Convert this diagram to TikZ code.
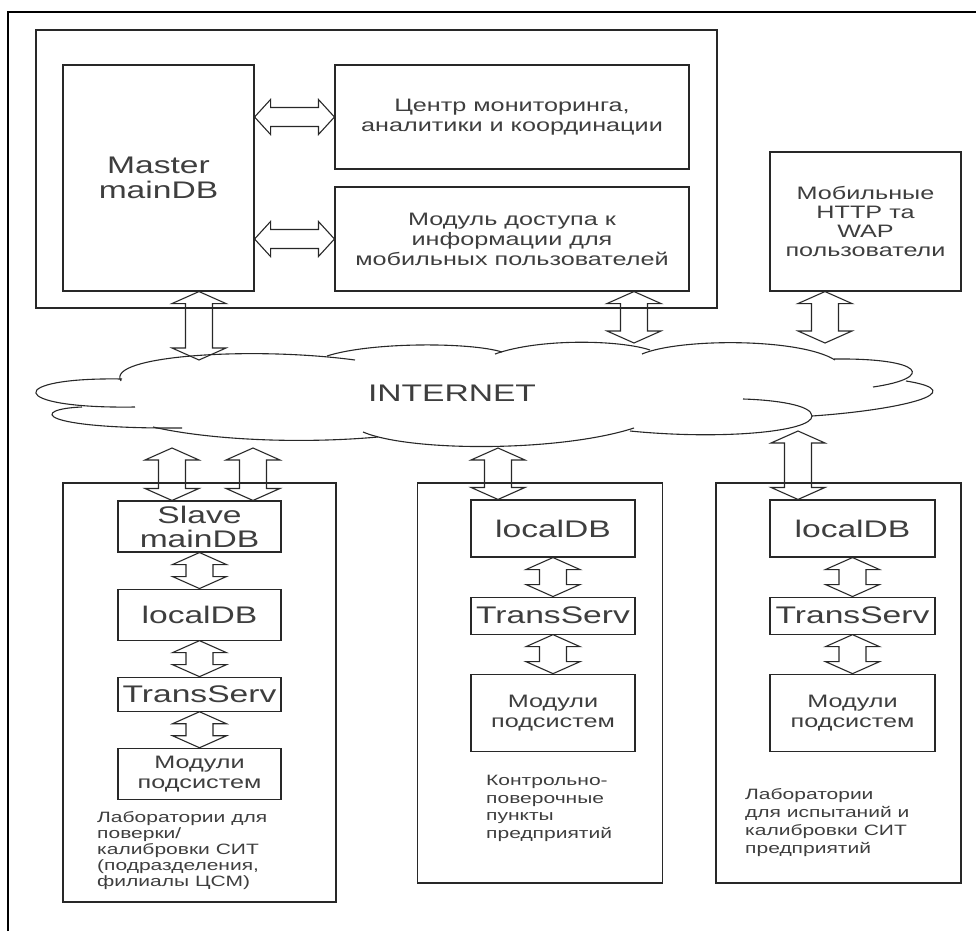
\documentclass[tikz,border=0pt]{standalone}
\usepackage{fontspec}
\setmainfont{Liberation Sans}[FakeStretch=1.4]
\usetikzlibrary{calc,positioning}
\definecolor{inkline}{RGB}{40,40,40}
\definecolor{inktext}{RGB}{62,62,62}

% wide two-headed arrows, drawn as outlines
\newcommand{\vbiarrow}[2]{%
  \draw[biarr] let \p1=#1, \p2=#2 in
    (\x1,\y1) -- (\x1+27pt,\y1-12pt) -- (\x1+13.5pt,\y1-12pt) -- (\x1+13.5pt,\y2+12pt)
    -- (\x1+27pt,\y2+12pt) -- (\x1,\y2) -- (\x1-27pt,\y2+12pt) -- (\x1-13.5pt,\y2+12pt)
    -- (\x1-13.5pt,\y1-12pt) -- (\x1-27pt,\y1-12pt) -- cycle;}
\newcommand{\hbiarrow}[2]{%
  \draw[biarr] let \p1=#1, \p2=#2 in
    (\x1,\y1) -- (\x1+16pt,\y1+17.5pt) -- (\x1+16pt,\y1+9.5pt) -- (\x2-16pt,\y1+9.5pt)
    -- (\x2-16pt,\y1+17.5pt) -- (\x2,\y1) -- (\x2-16pt,\y1-17.5pt) -- (\x2-16pt,\y1-9.5pt)
    -- (\x1+16pt,\y1-9.5pt) -- (\x1+16pt,\y1-17.5pt) -- cycle;}

\begin{document}
\begin{tikzpicture}[x=1pt, y=-1pt,
  box/.style={draw=inkline, line width=1.1pt, inner sep=0pt, align=center, text=inktext},
  bigtxt/.style={font=\fontsize{24}{25}\selectfont},
  midtxt/.style={font=\fontsize{18}{20}\selectfont},
  note/.style={anchor=west, inner sep=0pt, align=left, text=inktext, font=\fontsize{15}{16}\selectfont},
  biarr/.style={draw=inkline, line width=1.1pt, line join=miter},
  puff/.style={draw=inkline, line width=1.1pt}]
\useasboundingbox (0,0) rectangle (976,931);
\draw[line width=1.1pt] (8,931) -- (8,12) -- (976,12);

% server side
\node[box, minimum width=681pt, minimum height=278pt] (server) at (376.5,169) {};
\node[box, bigtxt, minimum width=191pt, minimum height=226pt] (master) at (158.5,178) {Master\\mainDB};
\node[box, midtxt, minimum width=354pt, minimum height=104pt] (centre) at (512,117) {Центр мониторинга,\\аналитики и координации};
\node[box, midtxt, minimum width=354pt, minimum height=104pt] (access) at (512,239) {Модуль доступа к\\информации для\\мобильных пользователей};
\node[box, midtxt, font=\fontsize{18}{19}\selectfont, minimum width=191pt, minimum height=139pt] (mobile) at (865.5,221.5) {Мобильные\\HTTP та\\WAP\\пользователи};

% internet cloud
\node[text=inktext, bigtxt] (inet) at (452,393) {INTERNET};
\draw[puff] (355,360) .. controls (250,346) and (105,356) .. (121,381);
\draw[puff] (122,379) .. controls (5,377) and (5,409) .. (135,407);
\draw[puff] (82,407) .. controls (30,409) and (35,429) .. (182,428);
\draw[puff] (153,427) .. controls (210,440) and (300,444) .. (378,437);
\draw[puff] (363,432) .. controls (410,452) and (560,452) .. (634,428);
\draw[puff] (630,431) .. controls (720,440) and (812,432) .. (812,416) .. controls (812,405) and (775,400) .. (743,399);
\draw[puff] (812,416) .. controls (900,410) and (975,392) .. (906,381);
\draw[puff] (873,387) .. controls (935,378) and (925,358) .. (834,359);
\draw[puff] (835,360) .. controls (800,338) and (680,338) .. (642,354);
\draw[puff] (650,350) .. controls (620,340) and (540,338) .. (495,354);
\draw[puff] (502,352) .. controls (470,342) and (370,342) .. (327,356);
\coordinate (cT1) at (199,360);
\coordinate (cT2) at (634,343);
\coordinate (cT3) at (825,343);
\coordinate (cB1) at (172,448);
\coordinate (cB2) at (253,448);
\coordinate (cB3) at (498,448);
\coordinate (cB4) at (798,431);

% laboratories (left)
\node[box, minimum width=273pt, minimum height=419pt] (labA) at (199.5,692.5) {};
\node[box, bigtxt, font=\fontsize{24}{24}\selectfont, minimum width=163pt, minimum height=51pt] (slave) at (199.5,526.5) {Slave\\mainDB};
\node[box, bigtxt, minimum width=163pt, minimum height=51pt, below=36pt of slave] (localA) {localDB};
\node[box, bigtxt, minimum width=163pt, minimum height=34pt, below=36pt of localA] (transA) {TransServ};
\node[box, midtxt, minimum width=163pt, minimum height=51pt, below=36pt of transA] (modA) {Модули\\подсистем};
\node[note] (noteA) at (97,851) {Лаборатории для\\поверки/\\калибровки СИТ\\(подразделения,\\филиалы ЦСМ)};

% control points (middle)
\node[box, minimum width=245pt, minimum height=400pt] (labB) at (540,683) {};
\node[box, bigtxt, minimum width=164pt, minimum height=57pt] (localB) at (553,528.5) {localDB};
\node[box, bigtxt, minimum width=164pt, minimum height=37pt, below=39pt of localB] (transB) {TransServ};
\node[box, midtxt, minimum width=164pt, minimum height=77pt, below=39pt of transB] (modB) {Модули\\подсистем};
\node[note, font=\fontsize{15}{17.6}\selectfont] (noteB) at (486,808.5) {Контрольно-\\поверочные\\пункты\\предприятий};

% test laboratories (right)
\node[box, minimum width=245pt, minimum height=400pt] (labC) at (838.5,683) {};
\node[box, bigtxt, minimum width=165pt, minimum height=57pt] (localC) at (852.5,528.5) {localDB};
\node[box, bigtxt, minimum width=165pt, minimum height=37pt, below=39pt of localC] (transC) {TransServ};
\node[box, midtxt, minimum width=165pt, minimum height=77pt, below=39pt of transC] (modC) {Модули\\подсистем};
\node[note, font=\fontsize{15}{18.3}\selectfont] (noteC) at (745,822.5) {Лаборатории\\для испытаний и\\калибровки СИТ\\предприятий};

% links
\hbiarrow{(master.east |- centre.west)}{(centre.west)}
\hbiarrow{(master.east |- access.west)}{(access.west)}
\vbiarrow{(master.south -| cT1)}{(cT1)}
\vbiarrow{(access.south -| cT2)}{(cT2)}
\vbiarrow{(mobile.south -| cT3)}{(cT3)}
\vbiarrow{(cB1)}{(cB1 |- slave.north)}
\vbiarrow{(cB2)}{(cB2 |- slave.north)}
\vbiarrow{(cB3)}{(cB3 |- localB.north)}
\vbiarrow{(cB4)}{(cB4 |- localC.north)}
\foreach \a/\b in {slave/localA, localA/transA, transA/modA, localB/transB, transB/modB, localC/transC, transC/modC}
  \vbiarrow{(\a.south)}{(\b.north)};
\end{tikzpicture}
\end{document}
